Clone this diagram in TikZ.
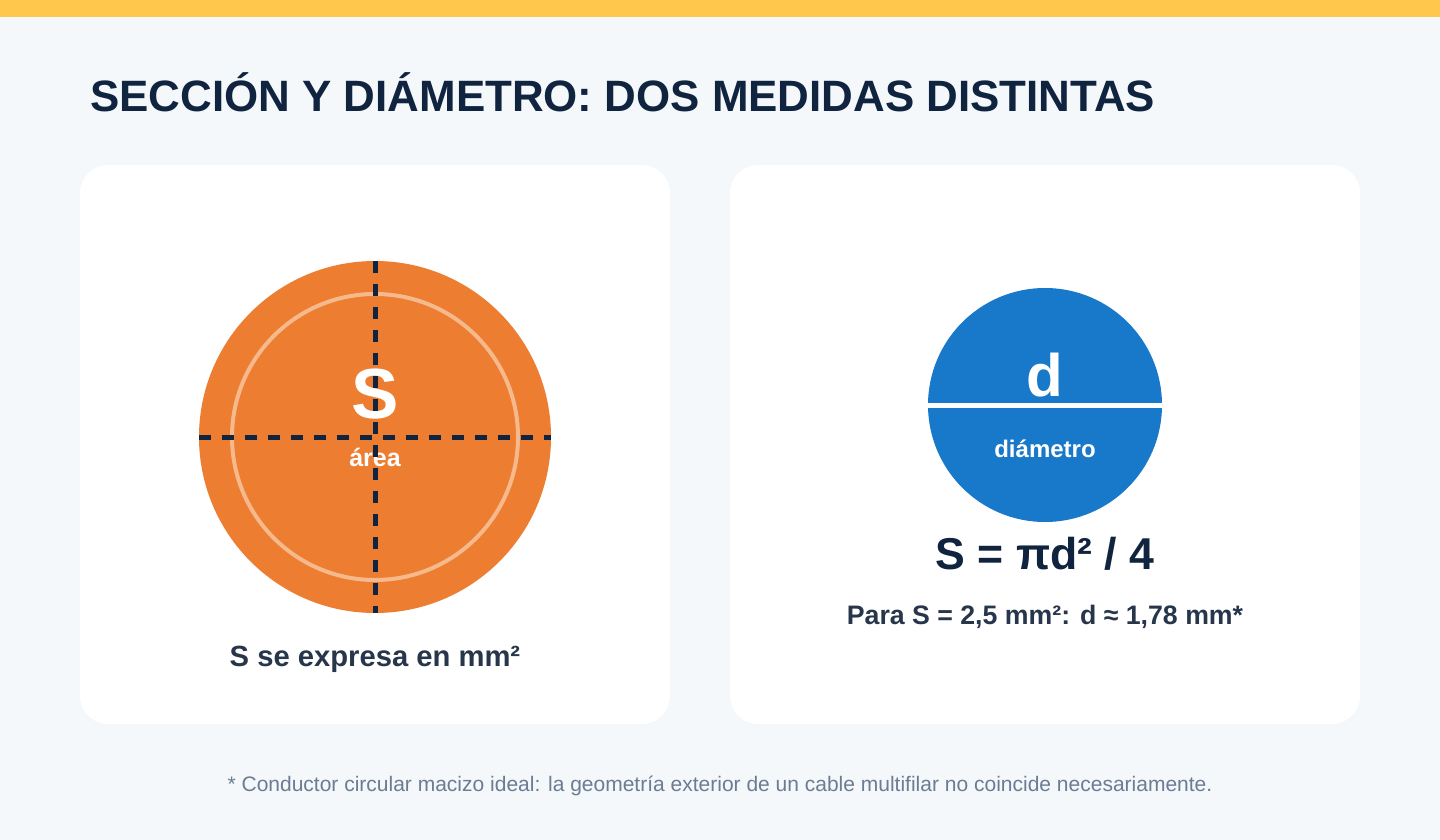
\documentclass[tikz,border=0pt]{standalone}
\usepackage{fontspec}
\setmainfont{Liberation Sans}
\definecolor{bgc}{HTML}{F4F8FB}
\definecolor{barc}{HTML}{FFC84D}
\definecolor{navy}{HTML}{10233F}
\definecolor{slate}{HTML}{27364B}
\definecolor{greyc}{HTML}{6B7C93}
\definecolor{orangec}{HTML}{ED7D31}
\definecolor{ringc}{HTML}{F6B98C}
\definecolor{bluec}{HTML}{1878C9}
\begin{document}
\begin{tikzpicture}[x=1pt,y=-1pt,
  panel/.style={fill=white, rounded corners=28pt},
  txt/.style={inner sep=0pt, anchor=base},
  dashline/.style={draw=navy, line width=5pt, dash pattern=on 12pt off 11pt},
  disc/.style={circle, inner sep=0pt, minimum size=#1}]
\useasboundingbox (0,0) rectangle (1440,840);
\fill[bgc] (0,0) rectangle (1440,840);
\fill[barc] (0,0) rectangle (1440,17);
\fill[panel] (80,165) rectangle (670,724);
\fill[panel] (730,165) rectangle (1360,724);

\node[txt, anchor=base west, text=navy, font=\fontsize{43.9}{44}\selectfont\bfseries] (title) at (90,112) {SECCIÓN Y DIÁMETRO: DOS MEDIDAS DISTINTAS};

% left: section
\node[disc=352pt, fill=orangec] (outer) at (375,437) {};
\node[disc=286pt, draw=ringc, line width=4pt] (ring) at (375,437) {};
\node[txt, text=white, font=\fontsize{71}{71}\selectfont\bfseries] (S) at (375,418) {S};
\node[txt, text=white, font=\fontsize{25}{25}\selectfont\bfseries] (area) at (375,466) {área};
\draw[dashline] (outer.north) -- (outer.south);
\draw[dashline] (outer.west) -- (outer.east);
\node[txt, text=slate, font=\fontsize{29.2}{29}\selectfont\bfseries] (unit) at (375,666) {S se expresa en mm²};

% right: diameter
\node[disc=234pt, fill=bluec] (blue) at (1045,405) {};
\draw[white, line width=5pt] (blue.west) -- (blue.east);
\node[txt, text=white, font=\fontsize{60}{60}\selectfont\bfseries] (d) at (1045,396) {d};
\node[txt, text=white, font=\fontsize{24}{24}\selectfont\bfseries] (diam) at (1045,457) {diámetro};
\node[txt, text=navy, font=\fontsize{44.6}{44}\selectfont\bfseries] (formula) at (1045,569) {S = πd² / 4};
\node[txt, text=slate, font=\fontsize{26.7}{26}\selectfont\bfseries] (example) at (1045,624) {Para S = 2,5 mm²: d ≈ 1,78 mm*};

\node[txt, text=greyc, font=\fontsize{21}{21}\selectfont] (note) at (720,791) {* Conductor circular macizo ideal: la geometría exterior de un cable multifilar no coincide necesariamente.};
\end{tikzpicture}
\end{document}
